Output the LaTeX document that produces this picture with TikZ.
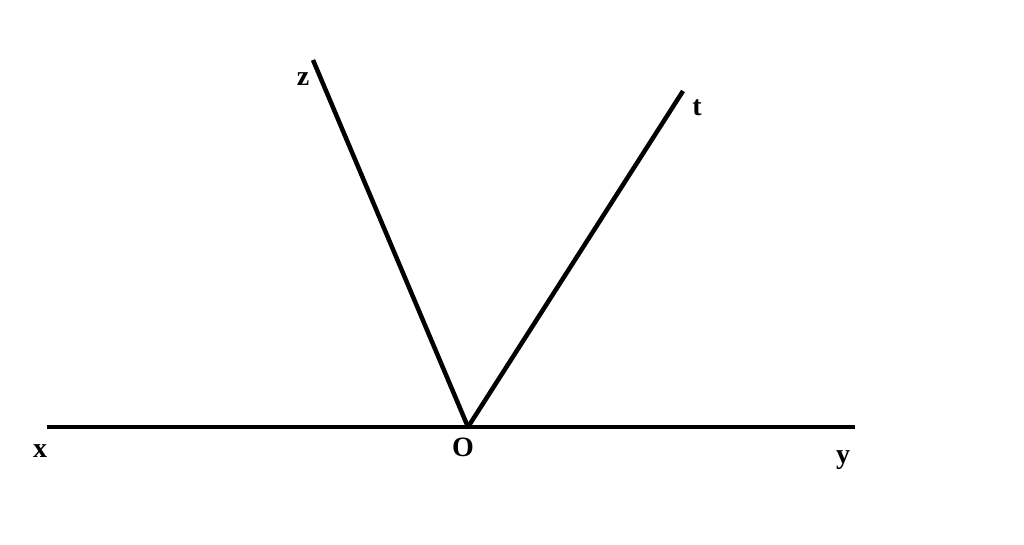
\documentclass[tikz,border=0pt]{standalone}
\usepackage{fontspec}
\setmainfont{Liberation Serif}
\usepackage{tikz}
\usetikzlibrary{positioning}

\begin{document}
\begin{tikzpicture}[
    x=1pt, y=-1pt,
    ray/.style={line width=4.5pt},
    lbl/.style={font=\bfseries\fontsize{28}{28}\selectfont, inner sep=0},
    ]
    \useasboundingbox (0,0) rectangle (1024,544);

    % points
    \coordinate (x) at (47,427);
    \coordinate (y) at (855,427);
    \coordinate (O) at (468,427);
    \coordinate (z) at (313,60);
    \coordinate (t) at (683,91);

    % rays
    \draw [ray] (x) -- (y);
    \draw [ray] (O) -- (z);
    \draw [ray] (O) -- (t);

    % labels
    \node (lx) [lbl] at (40,451) {x};
    \node (ly) [lbl] at (843,460) {y};
    \node (lO) [lbl] at (463,447) {O};
    \node (lz) [lbl] at (303,79) {z};
    \node (lt) [lbl] at (697,108) {t};
\end{tikzpicture}
\end{document}
